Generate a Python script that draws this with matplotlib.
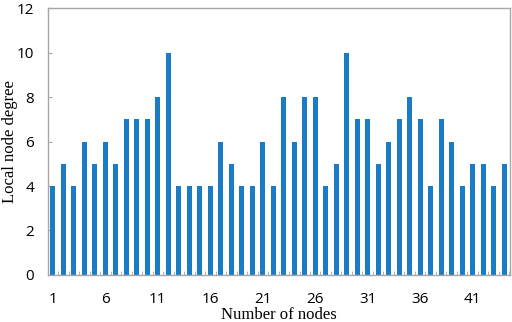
import matplotlib.pyplot as plt
from matplotlib.ticker import MultipleLocator

nodes = list(range(1, 45))
degree = [4, 5, 4, 6, 5, 6, 5, 7, 7, 7, 8, 10, 4, 4, 4, 4, 6, 5, 4, 4, 6, 4,
          8, 6, 8, 8, 4, 5, 10, 7, 7, 5, 6, 7, 8, 7, 4, 7, 6, 4, 5, 5, 4, 5]
xticks = [1, 6, 11, 16, 21, 26, 31, 36, 41]
yticks = [0, 2, 4, 6, 8, 10, 12]

fig = plt.figure(figsize=(5.12, 3.22), dpi=100)
ax = fig.add_axes([0.094, 0.146, 0.902, 0.829])

ax.bar(nodes, degree, width=0.45, color="#1a7cc4", zorder=2)

ax.set_xlim(0.55, 44.55)
ax.set_ylim(0, 12)
ax.set_xticks(xticks)
ax.set_yticks(yticks)
ax.xaxis.set_minor_locator(MultipleLocator(1, offset=0.5))

for s in ax.spines.values():
    s.set_color("#a6a6a6")
    s.set_linewidth(1.0)

ax.tick_params(axis="x", which="major", length=0, pad=12)
ax.tick_params(axis="x", which="minor", direction="in", length=3, color="#a6a6a6")
ax.tick_params(axis="y", direction="in", length=3, color="#a6a6a6", pad=10)
for lbl in ax.get_xticklabels() + ax.get_yticklabels():
    lbl.set_fontfamily("Open Sans")
    lbl.set_fontsize(11)

ax.set_xlabel("Number of nodes", family="Liberation Serif", fontsize=12, labelpad=0)
ax.set_ylabel("Local node degree", family="Liberation Serif", fontsize=12, va="center")
ax.yaxis.set_label_coords(-0.082, 0.5)

fig.savefig("out.png", dpi=100)
